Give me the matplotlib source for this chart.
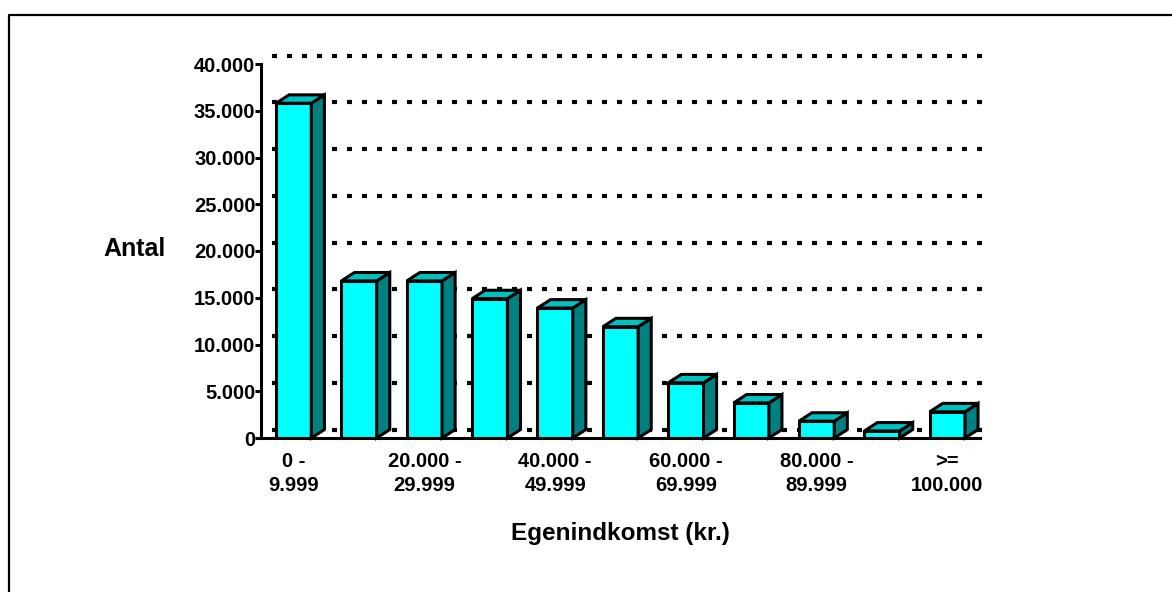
import numpy as np
import matplotlib
matplotlib.use('Agg')
import matplotlib.pyplot as plt
from matplotlib.patches import Polygon
from matplotlib.lines import Line2D


### DATA ###

categories = ['0 -\n9.999', '', '20.000 -\n29.999', '', '40.000 -\n49.999', '',
              '60.000 -\n69.999', '', '80.000 -\n89.999', '', '>=\n100.000']
counts = [35800, 16800, 16800, 14900, 13900, 11900, 5900, 3750, 1800, 750, 2800]
y_ticks = [0, 5000, 10000, 15000, 20000, 25000, 30000, 35000, 40000]
y_tick_labels = ['0', '5.000', '10.000', '15.000', '20.000', '25.000',
                 '30.000', '35.000', '40.000']


### STYLE ###

plt.rcParams['font.family'] = ['Liberation Sans', 'DejaVu Sans']
plt.rcParams['font.weight'] = 'bold'

front_col = '#00ffff'
top_col = '#00c0c0'
side_col = '#008080'
bar_w = 0.54
dx, dy = 0.2, 900      # depth offset in data units
edge_lw = 2.2


fig = plt.figure(figsize=(11.72, 5.92), dpi=100)
ax = fig.add_axes([261 / 1172, 154 / 592, 719 / 1172, 374 / 592])

x = np.arange(len(counts))
ax.set_xlim(-0.5, len(counts) - 0.5)
ax.set_ylim(0, 40000)

# back wall grid (dotted, shifted by depth)
for v in y_ticks:
    ax.plot([-0.5 + 0.17, len(counts) - 0.46], [v + dy, v + dy], color='black',
            lw=3, linestyle=(0, (1.2, 2.4)), solid_capstyle='butt',
            dash_capstyle='butt', clip_on=False, zorder=1)

# bars: front via ax.bar, top and side as polygons
ax.bar(x, counts, width=bar_w, color=front_col, edgecolor='black',
       linewidth=edge_lw, joinstyle='miter', zorder=3)
for xi, h in zip(x, counts):
    x0, x1 = xi - bar_w / 2, xi + bar_w / 2
    top = Polygon([(x0, h), (x1, h), (x1 + dx, h + dy), (x0 + dx, h + dy)],
                  closed=True, facecolor=top_col, edgecolor='black',
                  lw=edge_lw, joinstyle='miter', zorder=3, clip_on=False)
    side = Polygon([(x1, 0), (x1 + dx, dy), (x1 + dx, h + dy), (x1, h)],
                   closed=True, facecolor=side_col, edgecolor='black',
                   lw=edge_lw, joinstyle='miter', zorder=3, clip_on=False)
    ax.add_patch(side)
    ax.add_patch(top)

# axes
for s in ['top', 'right']:
    ax.spines[s].set_visible(False)
for s in ['left', 'bottom']:
    ax.spines[s].set_linewidth(2.2)
    ax.spines[s].set_zorder(4)

ax.set_yticks(y_ticks)
ax.set_yticklabels(y_tick_labels, fontsize=14.5, fontweight='bold')
ax.tick_params(axis='y', length=4, width=2.2, pad=0)
ax.set_xticks(x)
ax.set_xticklabels(categories, fontsize=14.5, fontweight='bold', linespacing=1.35)
ax.tick_params(axis='x', length=0, pad=10)

ax.set_xlabel('Egenindkomst (kr.)', fontsize=17.5, fontweight='bold', labelpad=19)
ax.set_ylabel('Antal', fontsize=18, fontweight='bold', rotation=0,
              va='center', ha='center')
ax.yaxis.set_label_coords(-0.176, 0.505)

# outer frame (only left and top visible)
fx, fy = 9 / 1172, 1 - 15 / 592
fig.add_artist(Line2D([fx, fx, 1.01], [-0.01, fy, fy], color='black', lw=1.6,
                      transform=fig.transFigure))

fig.savefig('out.png', dpi=100)
